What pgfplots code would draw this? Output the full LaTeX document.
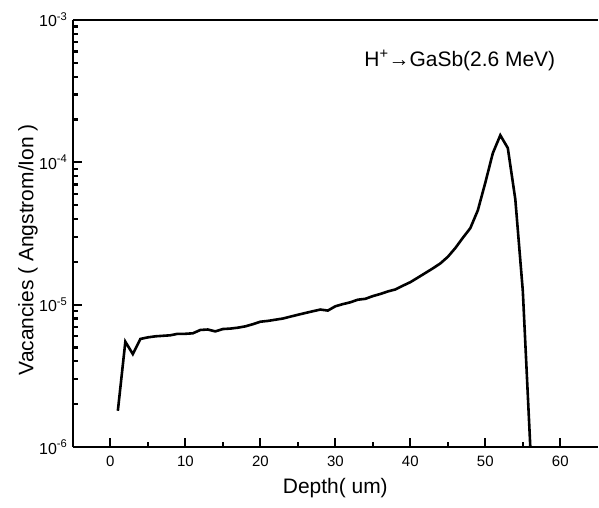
\documentclass[border=0pt]{standalone}
\usepackage{fontspec}
\setmainfont{Liberation Sans}
\usepackage{pgfplots}
\pgfplotsset{compat=1.18}
\pgfplotstableread{
x y
1 1.8e-6
2 5.5e-6
3 4.5e-6
4 5.75e-6
5 5.9e-6
6 6.0e-6
7 6.05e-6
8 6.1e-6
9 6.25e-6
10 6.25e-6
11 6.3e-6
12 6.65e-6
13 6.7e-6
14 6.5e-6
15 6.75e-6
16 6.8e-6
17 6.9e-6
18 7.05e-6
19 7.3e-6
20 7.6e-6
21 7.7e-6
22 7.85e-6
23 8.0e-6
24 8.25e-6
25 8.5e-6
26 8.75e-6
27 9.0e-6
28 9.25e-6
29 9.1e-6
30 9.75e-6
31 1.01e-5
32 1.04e-5
33 1.085e-5
34 1.1e-5
35 1.15e-5
36 1.19e-5
37 1.24e-5
38 1.28e-5
39 1.36e-5
40 1.44e-5
41 1.55e-5
42 1.67e-5
43 1.8e-5
44 1.95e-5
45 2.17e-5
46 2.5e-5
47 2.95e-5
48 3.45e-5
49 4.6e-5
50 7.2e-5
51 1.16e-4
52 1.55e-4
53 1.26e-4
54 5.5e-5
55 1.25e-5
56 1.0e-6
}\vacdata
\begin{document}
\begin{tikzpicture}
\begin{axis}[
  at={(0pt,0pt)}, anchor=south west,
  scale only axis, width=526pt, height=428pt,
  xmin=-5, xmax=65,
  ymode=log, ymin=1e-6, ymax=1e-3,
  axis x line*=box, axis y line*=left,
  axis line style={line width=2.4pt, -},
  xtick={0,10,...,60},
  minor xtick={5,15,...,55},
  ytick={1e-6,1e-5,1e-4,1e-3},
  yticklabels={10\textsuperscript{-6},10\textsuperscript{-5},10\textsuperscript{-4},10\textsuperscript{-3}},
  xtick pos=left, ytick pos=left,
  tick align=inside,
  major tick length=9pt, minor tick length=5pt,
  every tick/.style={black, line width=2.2pt},
  /pgf/number format/assume math mode=true,
  ticklabel style={font=\fontsize{15}{15}\selectfont},
  yticklabel style={xshift=-2pt, font=\fontsize{16}{16}\selectfont},
  xticklabel style={yshift=-5pt},
  xlabel={Depth( um)},
  ylabel={Vacancies ( Angstrom/Ion )},
  label style={font=\fontsize{21}{21}\selectfont},
  xlabel style={at={(axis description cs:0.5,-0.096)}, anchor=center},
  ylabel style={at={(axis description cs:-0.0856,0.462)}, anchor=center, rotate=0},
  clip=true,
]
\addplot[black, line width=2.6pt, no marks, line join=miter] table[x=x, y=y] {\vacdata};
\node[font=\fontsize{21}{21}\selectfont, anchor=center] at (axis cs:46.6,5.2e-4) {H\textsuperscript{+}→GaSb(2.6 MeV)};
\end{axis}
\path (-73pt,-60.3pt) rectangle (526pt,448pt);
\end{tikzpicture}
\end{document}
